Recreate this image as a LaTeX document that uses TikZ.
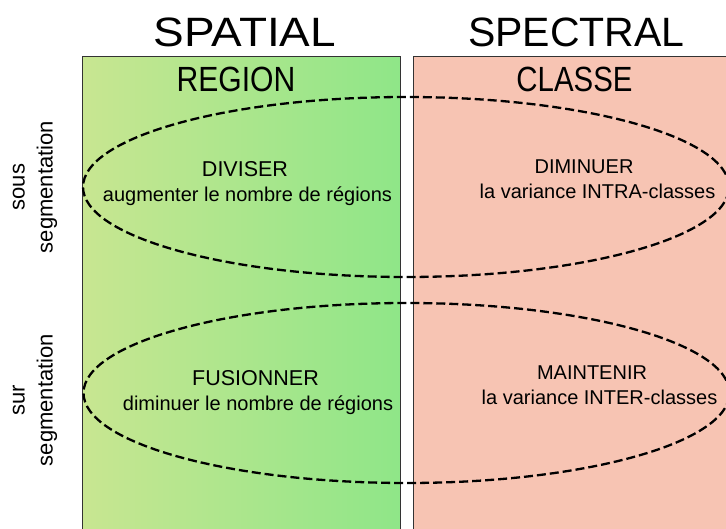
\documentclass[tikz,border=0pt]{standalone}
\usepackage{fontspec}
\setmainfont{Liberation Sans}
\usetikzlibrary{shapes.geometric}
\definecolor{gleft}{HTML}{C8E691}
\definecolor{gright}{HTML}{8FE688}
\definecolor{redfill}{HTML}{F7C4B3}
\tikzset{
  panel/.style={draw=black!80, line width=1pt},
  loop/.style={ellipse, draw=black, line width=2.3pt, dash pattern=on 9pt off 4pt, inner sep=0pt, minimum width=646pt, minimum height=180pt},
  title/.style={anchor=base, inner sep=0pt, font=\fontsize{41}{46}\selectfont},
  head/.style={anchor=base, inner sep=0pt, font=\fontsize{35}{40}\selectfont},
  caps/.style={anchor=base, inner sep=0pt, font=\fontsize{21.5}{26}\selectfont},
  txt/.style={anchor=base, inner sep=0pt, font=\fontsize{20}{26}\selectfont},
  side/.style={rotate=90, align=center, inner sep=0pt, font=\fontsize{22}{28}\selectfont}
}
\begin{document}
\begin{tikzpicture}[x=1pt,y=-1pt]
\useasboundingbox (0,0) rectangle (726,529);
\clip (0,0) rectangle (726,529);
\fill[white] (0,0) rectangle (726,529);
% panels
\shade[left color=gleft, right color=gright] (82,57) rectangle (400,540);
\draw[panel] (82,540) -- (82,57) -- (400,57) -- (400,540);
\fill[redfill] (413,57) rectangle (740,540);
\draw[panel] (413,540) -- (413,57) -- (740,57);
% titles
\node[title] (spatial) at (245,47) {\scalebox{1.12}[1]{SPATIAL}};
\node[title] (spectral) at (576.5,47) {\scalebox{1.0}[1]{SPECTRAL}};
\node[head] (region) at (236,92) {\scalebox{0.86}[1]{REGION}};
\node[head] (classe) at (574.5,92) {\scalebox{0.84}[1]{CLASSE}};
% ellipses
\node[loop] (under) at (406,187) {};
\node[loop] (over) at (406.5,393) {};
% texts
\node[caps] (diviser) at (245,177) {DIVISER};
\node[txt] (augm) at (247.5,202) {augmenter le nombre de régions};
\node[caps] (diminuer) at (584,174) {\fontsize{20}{24}\selectfont DIMINUER};
\node[txt] (intra) at (597.5,198.5) {la variance INTRA-classes};
\node[caps] (fusion) at (255.5,385) {FUSIONNER};
\node[txt] (dimin) at (258,410) {diminuer le nombre de régions};
\node[caps] (maint) at (592,380) {\fontsize{20}{24}\selectfont MAINTENIR};
\node[txt] (inter) at (599.5,405) {la variance INTER-classes};
% side labels
\node[side] (sous) at (35,187) {sous\\segmentation};
\node[side] (sur) at (35,400) {sur\\segmentation};
\end{tikzpicture}
\end{document}
